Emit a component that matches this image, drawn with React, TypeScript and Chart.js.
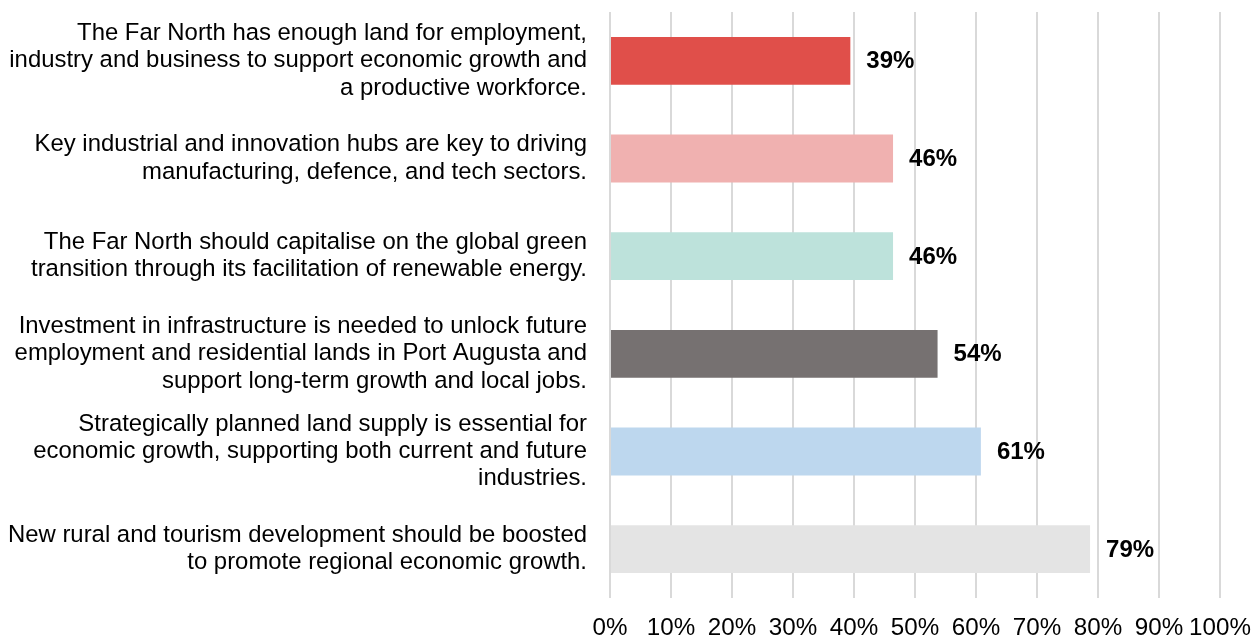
import React, { useEffect, useRef } from "react";
import { Chart, registerables } from "chart.js";

Chart.register(...registerables);

const categories: string[][] = [
  ["The Far North has enough land for employment,", "industry and business to support economic growth and", "a productive workforce."],
  ["Key industrial and innovation hubs are key to driving", "manufacturing, defence, and tech sectors."],
  ["The Far North should capitalise on the global green", "transition through its facilitation of renewable energy."],
  ["Investment in infrastructure is needed to unlock future", "employment and residential lands in Port Augusta and", "support long-term growth and local jobs."],
  ["Strategically planned land supply is essential for", "economic growth, supporting both current and future", "industries."],
  ["New rural and tourism development should be boosted", "to promote regional economic growth."],
];

const values: number[] = [39.4, 46.4, 46.4, 53.7, 60.8, 78.7];

const barColors: string[] = ["#E04F4A", "#F0B1B0", "#BDE2DB", "#767171", "#BDD7EE", "#E4E4E4"];

const xTicks: number[] = [0, 10, 20, 30, 40, 50, 60, 70, 80, 90, 100];

const FONT = "'Liberation Sans', Arial, sans-serif";

const valueLabelPlugin = {
  id: "valueLabels",
  afterDatasetsDraw(chart: any) {
    const ctx = chart.ctx;
    const meta = chart.getDatasetMeta(0);
    ctx.save();
    ctx.font = `bold 24px ${FONT}`;
    ctx.fillStyle = "#000000";
    ctx.textAlign = "left";
    ctx.textBaseline = "middle";
    meta.data.forEach((bar: any, i: number) => {
      const v = values[i];
      ctx.fillText(`${Math.round(v)}%`, bar.x + 16, bar.y + 1);
    });
    ctx.restore();
  },
};

export default function App() {
  const canvasRef = useRef<HTMLCanvasElement | null>(null);

  useEffect(() => {
    document.body.style.margin = "0";
    const canvas = canvasRef.current;
    if (!canvas) return;
    const chart = new Chart(canvas, {
      type: "bar",
      data: {
        labels: categories,
        datasets: [
          {
            data: values,
            backgroundColor: barColors,
            borderWidth: 0,
            categoryPercentage: 1,
            barPercentage: 0.49,
          },
        ],
      },
      options: {
        indexAxis: "y",
        animation: false,
        responsive: false,
        maintainAspectRatio: false,
        layout: { padding: { top: 12, right: 31, left: 0, bottom: 0 } },
        plugins: {
          legend: { display: false },
          tooltip: { enabled: false },
        },
        scales: {
          x: {
            min: 0,
            max: 100,
            afterBuildTicks(scale: any) {
              scale.ticks = xTicks.map((v) => ({ value: v }));
            },
            afterFit(scale: any) {
              scale.height = 39;
              scale.paddingLeft = 0;
              scale.paddingRight = 0;
            },
            grid: {
              color: "#D9D9D9",
              lineWidth: 2,
              drawTicks: false,
            },
            border: { display: false },
            ticks: {
              padding: 18,
              color: "#000000",
              font: { family: FONT, size: 24.2, lineHeight: 1 },
              callback: (v: any) => `${v}%`,
              maxRotation: 0,
              autoSkip: false,
            },
          },
          y: {
            afterFit(scale: any) {
              scale.width = 610;
              scale.paddingTop = 0;
              scale.paddingBottom = 0;
            },
            grid: { display: false, drawTicks: false },
            border: { display: false },
            ticks: {
              padding: 23,
              color: "#000000",
              font: { family: FONT, size: 23.9, lineHeight: 1.14 },
              autoSkip: false,
            },
          },
        },
      },
      plugins: [valueLabelPlugin],
    });
    return () => chart.destroy();
  }, []);

  return (
    <div style={{ width: 1251, height: 637, background: "#ffffff" }}>
      <canvas ref={canvasRef} width={1251} height={637} style={{ display: "block", width: 1251, height: 637 }} />
    </div>
  );
}
